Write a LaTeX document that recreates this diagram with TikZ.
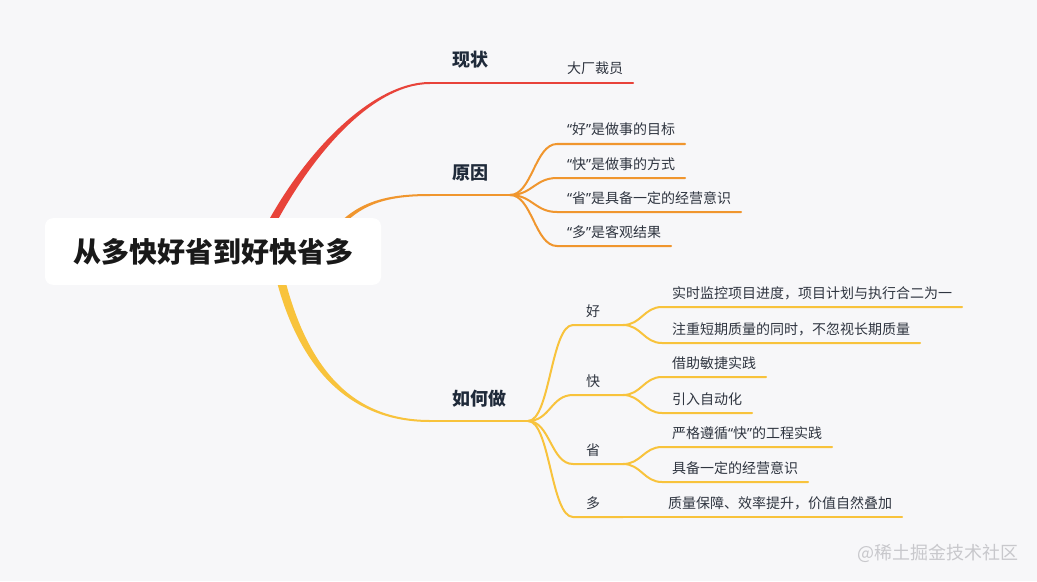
\documentclass[tikz,border=0pt]{standalone}
\usepackage{fontspec}
\setmainfont{Noto Sans CJK SC}
\newfontfamily\latino{Noto Sans}
\newcommand\virg[1]{{\latino “}#1{\latino ”}}
\usepackage{xcolor}
\usetikzlibrary{calc,positioning,backgrounds}
\definecolor{sfondo}{HTML}{F7F7F9}
\definecolor{rosso}{HTML}{E8433A}
\definecolor{arancio}{HTML}{F0962E}
\definecolor{giallo}{HTML}{F8C33C}
\definecolor{scuro}{HTML}{1F2A3A}
\definecolor{testo}{HTML}{2F3540}
\definecolor{grigio}{HTML}{C8C8CC}
\tikzset{
  radice/.style={fill=white,rounded corners=6pt,minimum width=252pt,minimum height=50pt,
    font=\fontsize{21}{24}\selectfont\bfseries,text=black!90},
  ramo/.style={anchor=south west,inner xsep=16.5pt,inner ysep=0pt,outer sep=0pt,text depth=12pt,
    font=\fontsize{13.5}{16}\selectfont\bfseries,text=scuro},
  rametto/.style={anchor=south west,inner xsep=9.75pt,inner ysep=0pt,outer sep=0pt,text depth=6.75pt,
    text width=18pt,align=left,font=\fontsize{10.5}{12}\selectfont,text=testo},
  foglia/.style={anchor=south west,inner xsep=7.5pt,inner ysep=0pt,outer sep=0pt,text depth=6.75pt,
    font=\fontsize{10.5}{12}\selectfont,text=testo},
  linea/.style={line width=1.5pt,line cap=round},
  firma/.style={font=\fontsize{13.5}{16}\selectfont,text=grigio}
}
\begin{document}
\begin{tikzpicture}[x=0.75pt,y=-0.75pt]
\useasboundingbox (0,0) rectangle (1037,581);
\node[radice] (radice) at (213,251.5) {从多快好省到好快省多};

% rami principali
\node[ramo] (stato) at (430,83) {现状};
\node[ramo] (cause) at (430,195) {原因};
\node[ramo] (come) at (430,421) {如何做};

% foglie
\node[foglia] (f1) at (557,83) {大厂裁员};
\node[foglia] (c1) at (557,144) {\virg{好}是做事的目标};
\node[foglia] (c2) at (557,178) {\virg{快}是做事的方式};
\node[foglia] (c3) at (557,212) {\virg{省}是具备一定的经营意识};
\node[foglia] (c4) at (557,246) {\virg{多}是客观结果};

\node[rametto] (hao) at (573,325) {好};
\node[rametto] (kuai) at (573,395) {快};
\node[rametto] (sheng) at (573,464) {省};
\node[rametto] (duo) at (573,517) {多};

\node[foglia] (h1) at (662,307) {实时监控项目进度，项目计划与执行合二为一};
\node[foglia] (h2) at (662,343) {注重短期质量的同时，不忽视长期质量};
\node[foglia] (k1) at (662,377) {借助敏捷实践};
\node[foglia] (k2) at (662,413) {引入自动化};
\node[foglia] (s1) at (662,447) {严格遵循\virg{快}的工程实践};
\node[foglia] (s2) at (662,482) {具备一定的经营意识};
\node[foglia] (d1) at (658,517) {质量保障、效率提升，价值自然叠加};

\node[firma] (firma) at (938,553) {@稀土掘金技术社区};

\begin{scope}[on background layer]
\fill[sfondo] (0,0) rectangle (1037,581);
\coordinate (r0) at (258,250);
\coordinate (a0) at (320,255);
\coordinate (g0) at (275,255);
% tronchi
\fill[rosso] ($(r0)+(3.6,1.7)$) .. controls (303.6,161.7) and (370,84) .. ($(stato.south west)+(0,1)$)
  -- ($(stato.south west)+(0,-1)$) .. controls (370,82) and (296.4,158.3) .. ($(r0)+(-3.6,-1.7)$) -- cycle;
\fill[arancio] ($(a0)+(2.2,1.1)$) .. controls (347.2,206.1) and (380,196) .. ($(cause.south west)+(0,1)$)
  -- ($(cause.south west)+(0,-1)$) .. controls (380,194) and (342.8,203.9) .. ($(a0)+(-2.2,-1.1)$) -- cycle;
\fill[giallo] ($(g0)+(4.2,-0.8)$) .. controls (304.2,379.2) and (360,420) .. ($(come.south west)+(0,-1)$)
  -- ($(come.south west)+(0,1)$) .. controls (360,422) and (295.8,380.8) .. ($(g0)+(-4.2,0.8)$) -- cycle;

\draw[linea,rosso] (stato.south west) -- (stato.south east) -- (f1.south west) -- (f1.south east);
\draw[linea,arancio] (cause.south west) -- (cause.south east);
\foreach \c in {c1,c2,c3,c4}
  \draw[linea,arancio] (cause.south east) .. controls +(22,0) and +(-22,0) .. (\c.south west) -- (\c.south east);
\draw[linea,giallo] (come.south west) -- (come.south east);
\foreach \r in {hao,kuai,sheng,duo}
  \draw[linea,giallo] (come.south east) .. controls +(22,0) and +(-22,0) .. (\r.south west) -- (\r.south east);
\foreach \r/\f in {hao/h1,hao/h2,kuai/k1,kuai/k2,sheng/s1,sheng/s2}
  \draw[linea,giallo] (\r.south east) .. controls +(18,0) and +(-18,0) .. (\f.south west) -- (\f.south east);
\draw[linea,giallo] (duo.south east) -- (d1.south west) -- (d1.south east);
\end{scope}
\end{tikzpicture}
\end{document}
